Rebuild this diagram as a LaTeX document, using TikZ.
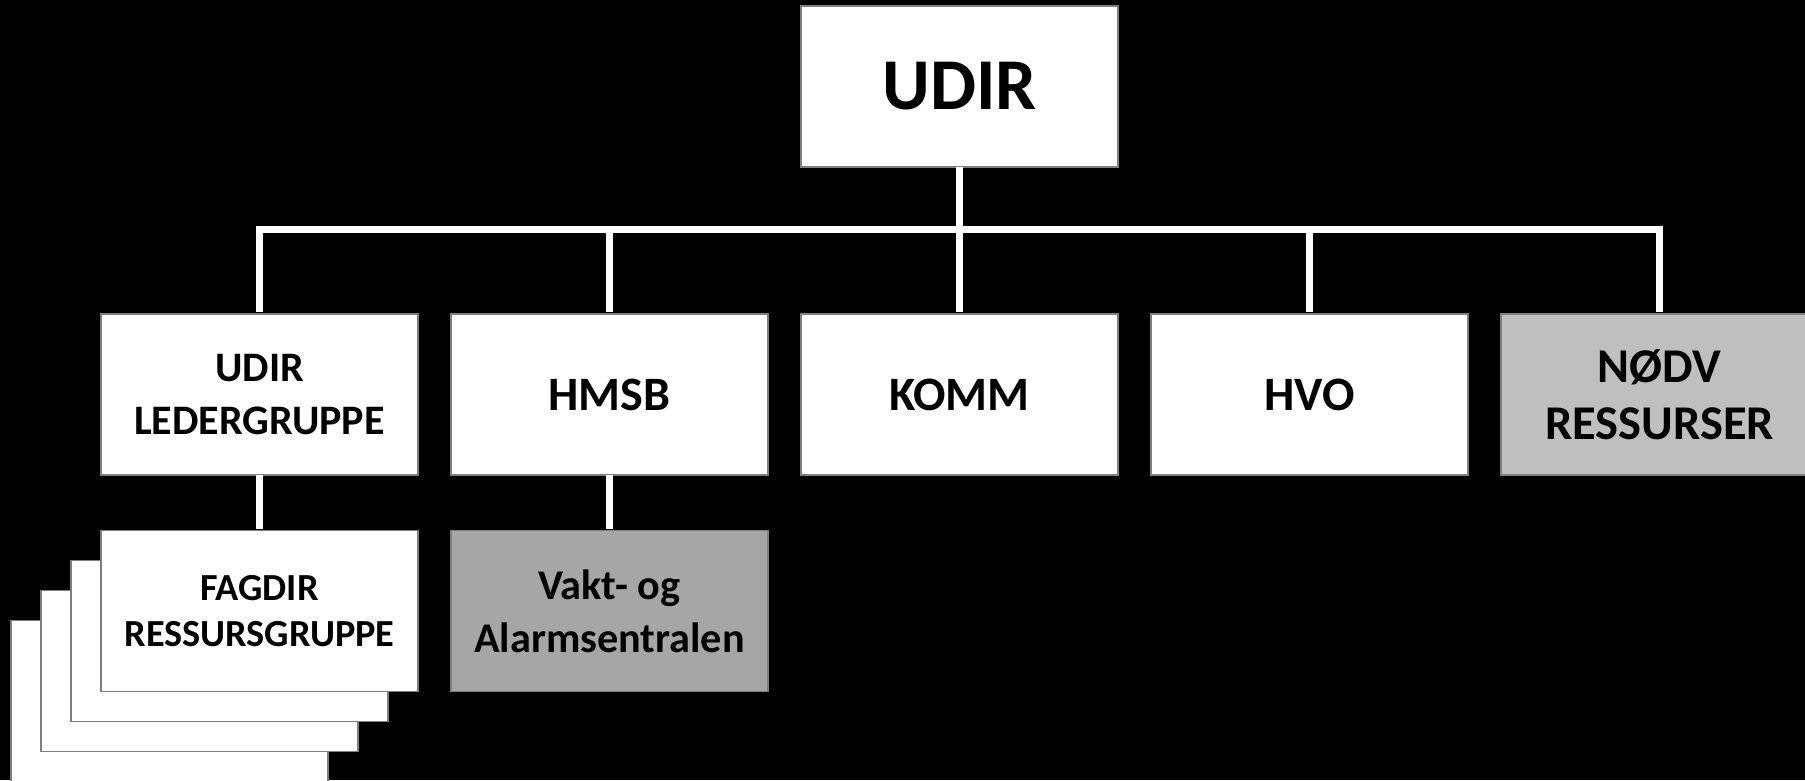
\documentclass[tikz,border=0pt]{standalone}
\usepackage{fontspec}
\setmainfont{Carlito}
\begin{document}
\begin{tikzpicture}[x=1pt,y=-1pt,
  box/.style={draw=boxline,line width=1.2pt,fill=white,minimum width=317pt,minimum height=161pt,inner sep=0pt,outer sep=0pt,align=center,font=\bfseries},
  conn/.style={draw=white,line width=7pt},
  big/.style={font=\bfseries\fontsize{73}{88}\selectfont},
  mid/.style={font=\bfseries\fontsize{48}{57}\selectfont},
  two/.style={font=\bfseries\fontsize{48.5}{57}\selectfont},
  small/.style={font=\bfseries\fontsize{42}{53}\selectfont},
  tiny/.style={font=\bfseries\fontsize{38.3}{46}\selectfont},
  vk/.style={font=\bfseries\fontsize{42.3}{53}\selectfont}]
\definecolor{boxline}{HTML}{7F7F7F}
\definecolor{lightg}{HTML}{BFBFBF}
\definecolor{darkg}{HTML}{A6A6A6}
\fill[black] (0,0) rectangle (1805,780);
\useasboundingbox (0,0) rectangle (1805,780);
% top
\node[box,big] (udir) at (959.5,86.5) {UDIR};
% second row
\node[box,small] (led) at (259.5,394.5) {UDIR\\LEDERGRUPPE};
\node[box,mid] (hmsb) at (609.5,394.5) {HMSB};
\node[box,mid] (komm) at (959.5,394.5) {KOMM};
\node[box,mid] (hvo) at (1309.5,394.5) {HVO};
\node[box,two,fill=lightg] (nodv) at (1659.5,394.5) {NØDV\\RESSURSER};
% stacked boxes
\node[box] (s3) at (169.5,701) {};
\node[box] (s2) at (199.5,671) {};
\node[box] (s1) at (229.5,641) {};
\node[box,tiny] (fag) at (259.5,611) {FAGDIR\\RESSURSGRUPPE};
\node[box,vk,fill=darkg] (vakt) at (609.5,611) {Vakt- og\\Alarmsentralen};
% connectors
\coordinate (bar) at (959.5,229);
\draw[conn,shorten >=2pt] (udir.south) -- (komm.north);
\draw[conn,shorten <=2pt,shorten >=2pt] (led.north) |- (bar) -| (nodv.north);
\draw[conn,shorten <=2pt] (hmsb.north) -- (hmsb.north |- bar);
\draw[conn,shorten <=2pt] (hvo.north) -- (hvo.north |- bar);
\draw[conn,shorten >=2pt] (led.south) -- (fag.north);
\draw[conn,shorten >=2pt] (hmsb.south) -- (vakt.north);
\end{tikzpicture}
\end{document}
